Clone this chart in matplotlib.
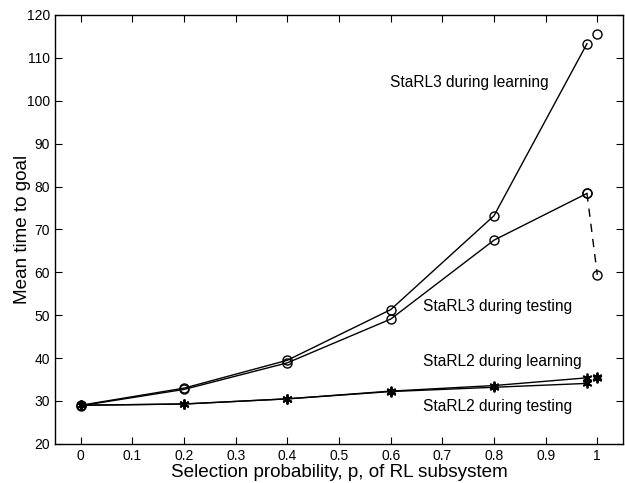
import matplotlib
matplotlib.use("Agg")
import matplotlib.pyplot as plt

plt.rcParams['font.family'] = ['Liberation Sans', 'DejaVu Sans']

p = [0, 0.2, 0.4, 0.6, 0.8, 0.98]
p_end = [0.98, 1.0]

starl3_learn = [29.0, 33.0, 39.5, 51.3, 73.2, 113.3]
starl3_learn_p1 = 115.6
starl3_test = [28.9, 32.7, 38.9, 49.1, 67.5, 78.4]
starl3_test_end = [78.4, 59.4]

starl2_learn = [29.0, 29.3, 30.5, 32.3, 33.6, 35.4]
starl2_learn_p1 = 35.5
starl2_test = [29.0, 29.3, 30.5, 32.2, 33.2, 34.1]
starl2_test_p1 = 35.3

xticks = [0, 0.1, 0.2, 0.3, 0.4, 0.5, 0.6, 0.7, 0.8, 0.9, 1]
xticklabels = ['0', '0.1', '0.2', '0.3', '0.4', '0.5', '0.6', '0.7', '0.8', '0.9', '1']
yticks = [20, 30, 40, 50, 60, 70, 80, 90, 100, 110, 120]

fig = plt.figure(figsize=(6.25, 4.83), dpi=100)
ax = fig.add_axes([0.088, 0.081, 0.909, 0.888])

ast = (6, 2, 0)
k = dict(color='black', lw=1.0)
ax.plot(p, starl3_learn, marker='o', mfc='none', mec='black', ms=6.5, **k)
ax.plot([1.0], [starl3_learn_p1], marker='o', mfc='none', mec='black', ms=6.5, ls='none')
ax.plot(p, starl3_test, marker='o', mfc='none', mec='black', ms=6.5, **k)
ax.plot(p_end, starl3_test_end, marker='o', mfc='none', mec='black', ms=6.5,
        color='black', lw=1.0, ls=(0, (6, 5)))

ax.plot(p, starl2_learn, marker=ast, mec='black', ms=7, mew=1.3, **k)
ax.plot([1.0], [starl2_learn_p1], marker=ast, mec='black', ms=7, mew=1.3, ls='none')
ax.plot(p, starl2_test, marker=ast, mec='black', ms=7, mew=1.3, **k)
ax.plot([1.0], [starl2_test_p1], marker=ast, mec='black', ms=7, mew=1.3, ls='none')

fs = 11.2
ax.text(0.598, 104.3, 'StaRL3 during learning', fontsize=fs, va='center', ha='left')
ax.text(0.663, 52.0, 'StaRL3 during testing', fontsize=fs, va='center', ha='left')
ax.text(0.663, 39.2, 'StaRL2 during learning', fontsize=fs, va='center', ha='left')
ax.text(0.663, 28.6, 'StaRL2 during testing', fontsize=fs, va='center', ha='left')

ax.set_xlim(-0.05, 1.05)
ax.set_ylim(20, 120)
ax.set_xticks(xticks)
ax.set_xticklabels(xticklabels)
ax.set_yticks(yticks)
ax.tick_params(direction='in', top=True, right=True, length=5, width=0.8, labelsize=10)
for s in ax.spines.values():
    s.set_linewidth(1.0)
ax.set_xlabel('Selection probability, p, of RL subsystem', fontsize=13.6, labelpad=1)
ax.set_ylabel('Mean time to goal', fontsize=13.6, labelpad=-3)

fig.savefig('out.png', dpi=100)
